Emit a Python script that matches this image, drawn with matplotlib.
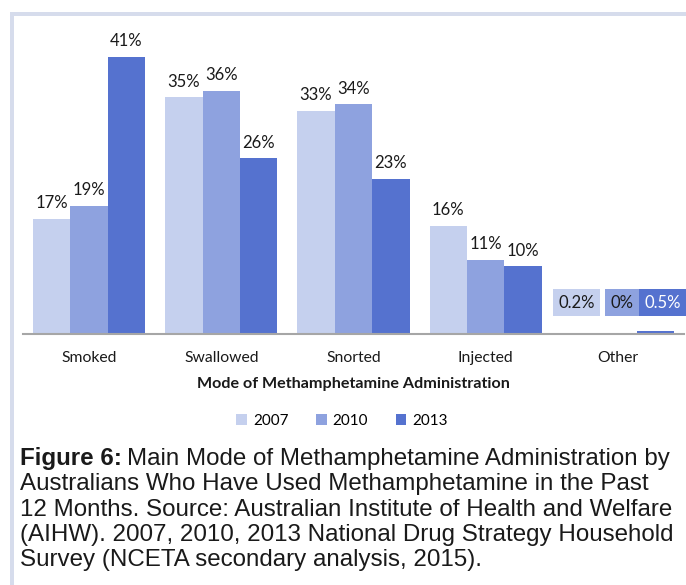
import matplotlib
matplotlib.use("Agg")
import matplotlib.pyplot as plt
from matplotlib.patches import Rectangle
import numpy as np

categories = ["Smoked", "Swallowed", "Snorted", "Injected", "Other"]
years = ["2007", "2010", "2013"]
v2007 = [17, 35, 33, 16, 0.2]
v2010 = [19, 36, 34, 11, 0.0]
v2013 = [41, 26, 23, 10, 0.5]
labels2007 = ["17%", "35%", "33%", "16%", "0.2%"]
labels2010 = ["19%", "36%", "34%", "11%", "0%"]
labels2013 = ["41%", "26%", "23%", "10%", "0.5%"]
colors = ["#c5d0ee", "#8ea2df", "#5572cf"]

W, H = 686, 585
fig = plt.figure(figsize=(W / 100, H / 100), dpi=100)
fig.patch.set_facecolor("white")

# frame border (left and top)
border = "#d6dcec"
fig.add_artist(Rectangle((10 / W, 0), 4 / W, 1 - 12 / H, transform=fig.transFigure,
                         facecolor=border, edgecolor="none"))
fig.add_artist(Rectangle((10 / W, 1 - 16 / H), 1, 4 / H, transform=fig.transFigure,
                         facecolor=border, edgecolor="none"))

ax_left, ax_right = 23, 684
ax_top, ax_bot = 30, 334
ax = fig.add_axes([ax_left / W, 1 - ax_bot / H, (ax_right - ax_left) / W, (ax_bot - ax_top) / H])
ymax = (ax_bot - ax_top) / 6.76
ax.set_ylim(0, ymax)
ax.set_xlim(-0.5, len(categories) - 0.5)

x = np.arange(len(categories))
bw = 0.283
series = [v2007, v2010, v2013]
lab = [labels2007, labels2010, labels2013]
font = "Lato"
other_shift = [-3, 3, 5]  # points: label boxes spread apart in the "Other" group
for i, (vals, c, ls) in enumerate(zip(series, colors, lab)):
    xs = x + (i - 1) * bw
    ax.bar(xs, vals, width=bw, color=c, edgecolor="none", label=years[i])
    for j, (xx, v, t) in enumerate(zip(xs, vals, ls)):
        if categories[j] == "Other":
            ax.annotate(t, (xx, 4.6), xytext=(other_shift[i], 0), textcoords="offset points",
                        ha="center", va="center", fontsize=12, family=font,
                        color="white" if i == 2 else "#1a1a1a", annotation_clip=False,
                        bbox=dict(boxstyle="square,pad=0.33", facecolor=c, edgecolor="none"))
        else:
            ax.annotate(t, (xx, v), xytext=(0, 5.5), textcoords="offset points",
                        ha="center", va="bottom", fontsize=12, family=font, color="#1a1a1a")

for s in ["top", "right", "left"]:
    ax.spines[s].set_visible(False)
ax.spines["bottom"].set_color("#a6a6a6")
ax.spines["bottom"].set_linewidth(1.5)
ax.set_yticks([])
ax.set_xticks(x)
ax.set_xticklabels(categories, family=font, fontsize=11.3, color="#1a1a1a")
ax.tick_params(axis="x", length=0, pad=12)
ax.set_xlabel("Mode of Methamphetamine Administration", family=font, fontsize=11.6,
              fontweight="bold", labelpad=9, color="#1a1a1a")

leg = fig.legend(loc="center", bbox_to_anchor=(342 / W, 1 - 421 / H), ncol=3, frameon=False,
                 prop={"family": font, "size": 11}, handlelength=0.7, handleheight=0.7,
                 columnspacing=1.8, handletextpad=0.4)

caption_lines = [
    "Main Mode of Methamphetamine Administration by",
    "Australians Who Have Used Methamphetamine in the Past",
    "12 Months. Source: Australian Institute of Health and Welfare",
    "(AIHW). 2007, 2010, 2013 National Drug Strategy Household",
    "Survey (NCETA secondary analysis, 2015).",
]
cap_font = "Liberation Sans"
cap_size = 17.4
y0 = 459
for k, line in enumerate(caption_lines):
    yy = 1 - (y0 + k * 25.3) / H
    if k == 0:
        t1 = fig.text(20 / W, yy, "Figure 6:", family=cap_font, fontsize=cap_size,
                      fontweight="bold", va="center", ha="left", color="#1a1a1a")
        fig.canvas.draw()
        bb = t1.get_window_extent()
        fig.text((bb.x1 + 5) / W, yy, line, family=cap_font, fontsize=cap_size,
                 va="center", ha="left", color="#1a1a1a")
    else:
        fig.text(20 / W, yy, line, family=cap_font, fontsize=cap_size, va="center",
                 ha="left", color="#1a1a1a")

fig.savefig("out.png", dpi=100)
